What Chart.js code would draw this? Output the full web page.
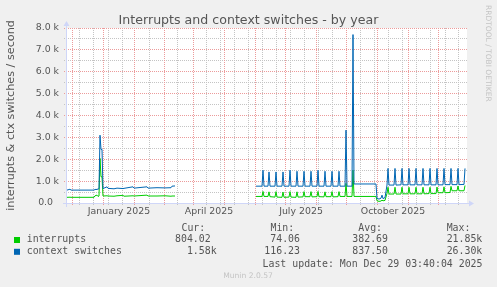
<!DOCTYPE html>
<html lang="en">
<head>
<meta charset="UTF-8" />
<title>Interrupts and context switches - by year</title>
<script src="https://cdn.jsdelivr.net/npm/chart.js"></script>
<style>
  html, body { margin: 0; padding: 0; background: #f0f0f0; }
  .wrap { width: 497px; height: 287px; position: relative; }
</style>
</head>
<body>
<div class="wrap"><canvas id="graph"></canvas></div>
<script>
// x = days since 25 Nov 2024 (the year view shows one pixel per day)
const days = [
  0, 3, 4, 27, 28, 30, 31, 32, 33, 34, 35, 36, 40, 41, 47, 50, 56, 57, 66, 67, 80, 81, 90, 98, 104, 105, 108,
  140,
  189, 195, 196, 197, 201, 202, 203, 208, 209, 210, 215, 216, 217, 222, 223, 224, 229, 230, 231,
  236, 237, 238, 243, 244, 245, 250, 251, 252, 257, 258, 259, 264, 265, 266, 271, 272, 273,
  278, 279, 280, 285, 286, 287, 309, 310, 312, 314, 315, 316, 318,
  320, 321, 322, 327, 328, 329, 334, 335, 336, 341, 342, 343, 348, 349, 350, 355, 356, 357,
  362, 363, 364, 369, 370, 371, 376, 377, 378, 383, 384, 385, 390, 391, 392, 397, 398
];
const contextSwitches = [
  590, 630, 590, 590, 620, 620, 640, 650, 3100, 2450, 2450, 660, 740, 670, 650, 680, 660, 670, 740, 680, 740, 680, 700, 690, 700, 770, 780,
  null,
  770, 770, 1500, 770, 770, 1420, 770, 770, 1420, 770, 770, 1420, 770, 770, 1500, 770, 770, 1450, 770,
  770, 1450, 770, 770, 1450, 770, 770, 1500, 770, 770, 1450, 770, 770, 1450, 770, 770, 1450, 770,
  770, 3330, 770, 770, 7700, 870, 870, 210, 180, 220, 360, 200, 250,
  820, 1580, 820, 820, 1580, 820, 830, 1580, 830, 830, 1580, 830, 830, 1580, 830, 830, 1580, 830,
  830, 1580, 830, 830, 1580, 830, 830, 1580, 840, 840, 1580, 840, 840, 1580, 840, 850, 1580
];
const interrupts = [
  260, 265, 260, 260, 330, 360, 300, 320, 2040, 1200, 1200, 320, 330, 320, 310, 330, 350, 310, 330, 320, 360, 320, 320, 330, 310, 320, 320,
  null,
  300, 300, 530, 300, 300, 510, 290, 270, 520, 270, 260, 500, 260, 270, 520, 270, 260, 510, 270,
  280, 520, 290, 290, 520, 280, 290, 530, 290, 280, 510, 290, 290, 520, 280, 290, 520, 300,
  300, 900, 300, 300, 1500, 300, 300, 100, 75, 90, 130, 100, 120,
  440, 720, 410, 410, 720, 410, 410, 720, 420, 420, 720, 420, 420, 720, 420, 420, 720, 420,
  430, 720, 430, 430, 730, 470, 470, 740, 470, 480, 760, 560, 560, 780, 560, 560, 800
];

// time grid (days since 25 Nov 2024)
const monthDays = [5, 36, 67, 97, 126, 157, 188, 218, 249.5, 279.5, 310.5, 341, 371];
const twoWeekDays = [12.3, 26.7, 41, 55, 82, 110, 139, 153, 167, 181, 195, 209.7, 223,
  237, 251, 265, 293, 307, 321, 335, 349.7, 363, 378, 391];
const labelDays = [52, 142, 234, 326];
const monthLabels = ['January 2025', 'April 2025', 'July 2025', 'October 2025'];
const yMinorValues = [500, 1500, 2500, 3500, 4500, 5500, 6500, 7500];
const yMajorValues = [1000, 2000, 3000, 4000, 5000, 6000, 7000, 8000];

const seriesNames = ['interrupts', 'context switches'];
const seriesColors = ['#00cc00', '#0066b3'];
const curText = ['804.02', '  1.58k'];
const minText = [' 74.06', '116.23'];
const avgText = ['382.69', '837.50'];
const maxText = [' 21.85k', ' 26.30k'];

const MAJOR = 'rgb(236, 155, 155)';
const MINOR = 'rgb(196, 196, 196)';
const FONT = "'DejaVu Sans', sans-serif";
const MONO = "'DejaVu Sans Mono', monospace";

const muninDecor = {
  id: 'muninDecor',
  beforeDraw(chart) {
    const { ctx, chartArea: a } = chart;
    ctx.save();
    ctx.fillStyle = '#f0f0f0';
    ctx.fillRect(0, 0, chart.width, chart.height);
    ctx.fillStyle = '#ffffff';
    ctx.fillRect(a.left, a.top, a.right - a.left, a.bottom - a.top);
    ctx.restore();
  },
  beforeDatasetsDraw(chart) {
    const { ctx, chartArea: a, scales } = chart;
    const snap = p => Math.round(p - 0.5) + 0.5;
    ctx.save();
    ctx.lineWidth = 1;
    ctx.setLineDash([1, 1]);
    const vline = (d, color) => {
      const px = snap(scales.x.getPixelForValue(d));
      ctx.strokeStyle = color;
      ctx.beginPath();
      ctx.moveTo(px, a.top);
      ctx.lineTo(px, a.bottom + 3);
      ctx.stroke();
    };
    const hline = (v, color) => {
      const py = snap(scales.y.getPixelForValue(v));
      ctx.strokeStyle = color;
      ctx.beginPath();
      ctx.moveTo(a.left - 3, py);
      ctx.lineTo(a.right, py);
      ctx.stroke();
    };
    twoWeekDays.forEach(d => vline(d, MINOR));
    yMinorValues.forEach(v => hline(v, MINOR));
    monthDays.forEach(d => vline(d, MAJOR));
    yMajorValues.forEach(v => hline(v, MAJOR));
    ctx.restore();
  },
  afterDatasetsDraw(chart) {
    const { ctx, chartArea: a } = chart;
    ctx.save();
    ctx.strokeStyle = '#cfd6f8';
    ctx.fillStyle = '#cfd6f8';
    ctx.lineWidth = 1;
    ctx.beginPath();
    ctx.moveTo(a.left - 4, a.bottom + 0.5);
    ctx.lineTo(a.right + 4, a.bottom + 0.5);
    ctx.moveTo(a.left - 0.5, a.bottom + 4);
    ctx.lineTo(a.left - 0.5, a.top - 4);
    ctx.stroke();
    ctx.beginPath();
    ctx.moveTo(a.right + 2, a.bottom - 2.5);
    ctx.lineTo(a.right + 2, a.bottom + 3.5);
    ctx.lineTo(a.right + 7, a.bottom + 0.5);
    ctx.closePath();
    ctx.fill();
    ctx.beginPath();
    ctx.moveTo(a.left - 3.5, a.top - 2);
    ctx.lineTo(a.left + 2.5, a.top - 2);
    ctx.lineTo(a.left - 0.5, a.top - 7);
    ctx.closePath();
    ctx.fill();
    ctx.restore();
  },
  afterDraw(chart) {
    const { ctx, chartArea: a } = chart;
    ctx.save();
    ctx.fillStyle = '#555';
    ctx.textBaseline = 'alphabetic';
    ctx.textAlign = 'center';
    ctx.font = '12.6px ' + FONT;
    ctx.fillText('Interrupts and context switches - by year', chart.width / 2, 24);

    // vertical unit label
    ctx.save();
    ctx.translate(11.5, (a.top + a.bottom) / 2);
    ctx.rotate(-Math.PI / 2);
    ctx.font = '11.2px ' + FONT;
    ctx.textBaseline = 'middle';
    ctx.fillText('interrupts & ctx switches / second', 0, 0);
    ctx.restore();

    // rrdtool watermark
    ctx.save();
    ctx.translate(488, 5);
    ctx.rotate(Math.PI / 2);
    ctx.font = '7.5px ' + FONT;
    ctx.fillStyle = '#c4c4c4';
    ctx.textAlign = 'left';
    ctx.textBaseline = 'middle';
    ctx.fillText('RRDTOOL / TOBI OETIKER', 0, 0);
    ctx.restore();

    // legend table
    ctx.font = '9.9px ' + MONO;
    ctx.textAlign = 'left';
    ctx.textBaseline = 'middle';
    ctx.fillStyle = '#555';
    ctx.fillText(' Cur:', 175.5, 228);
    ctx.fillText(' Min:', 264.5, 228);
    ctx.fillText(' Avg:', 352.3, 228);
    ctx.fillText(' Max:', 440.7, 228);
    const rowY = [239.5, 251.3];
    seriesNames.forEach((name, i) => {
      const y = rowY[i];
      ctx.fillStyle = seriesColors[i];
      ctx.fillRect(14, y - 2.5, 6, 6);
      ctx.fillStyle = '#555';
      ctx.fillText(name, 26.7, y);
      ctx.fillText(curText[i], 175, y);
      ctx.fillText(minText[i], 264.3, y);
      ctx.fillText(avgText[i], 352.3, y);
      ctx.fillText(maxText[i], 440.7, y);
    });
    ctx.textAlign = 'right';
    ctx.fillText('Last update: Mon Dec 29 03:40:04 2025', 482.5, 264);

    ctx.textAlign = 'center';
    ctx.font = '7.6px ' + FONT;
    ctx.fillStyle = '#c4c4c4';
    ctx.fillText('Munin 2.0.57', 248, 276);
    ctx.restore();
  }
};

new Chart(document.getElementById('graph'), {
  type: 'line',
  data: {
    datasets: [
      {
        label: seriesNames[1],
        data: days.map((d, i) => ({ x: d, y: contextSwitches[i] })),
        borderColor: seriesColors[1],
        order: 0
      },
      {
        label: seriesNames[0],
        data: days.map((d, i) => ({ x: d, y: interrupts[i] })),
        borderColor: seriesColors[0],
        order: 1
      }
    ]
  },
  options: {
    responsive: true,
    maintainAspectRatio: false,
    animation: false,
    devicePixelRatio: 1,
    spanGaps: false,
    elements: {
      line: { borderWidth: 1, tension: 0 },
      point: { radius: 0 }
    },
    layout: { autoPadding: false, padding: { top: 28, right: 30, left: 0, bottom: 0 } },
    plugins: {
      legend: { display: false },
      tooltip: { enabled: false }
    },
    scales: {
      x: {
        type: 'linear',
        min: 0,
        max: 400,
        afterBuildTicks: scale => {
          scale.ticks = labelDays.map(v => ({ value: v }));
        },
        afterFit: scale => { scale.height = 84; },
        ticks: {
          autoSkip: false,
          maxRotation: 0,
          padding: 3,
          color: '#555',
          font: { family: FONT, size: 9.4 },
          callback: v => {
            const i = labelDays.indexOf(v);
            return i >= 0 ? monthLabels[i] : '';
          }
        },
        grid: { display: false, drawTicks: false },
        border: { display: false }
      },
      y: {
        min: 0,
        max: 8000,
        afterFit: scale => { scale.width = 67; },
        ticks: {
          stepSize: 1000,
          padding: 8,
          color: '#555',
          font: { family: FONT, size: 9.4 },
          callback: v => (v === 0 ? '0.0  ' : (v / 1000).toFixed(1) + ' k')
        },
        grid: { display: false, drawTicks: false },
        border: { display: false }
      }
    }
  },
  plugins: [muninDecor]
});
</script>
</body>
</html>
